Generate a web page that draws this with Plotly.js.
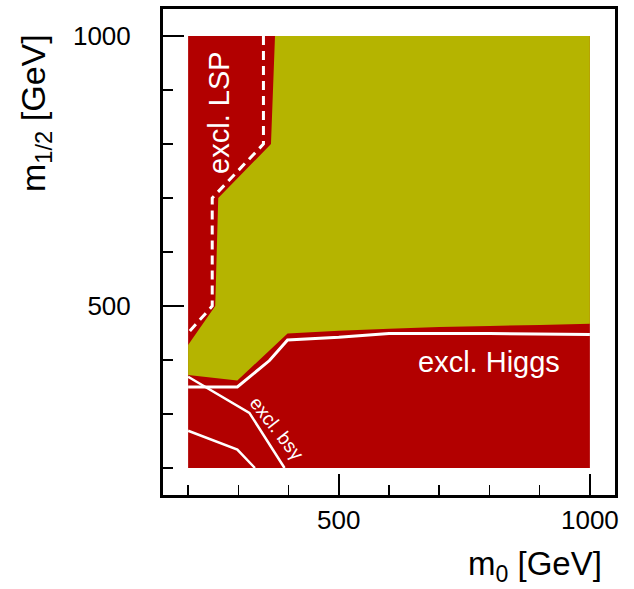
<!DOCTYPE html>
<html>
<head>
<meta charset="utf-8">
<script src="https://cdn.plot.ly/plotly-3.0.1.min.js"></script>
<style>html,body{margin:0;padding:0;background:#fff;}#chart{width:634px;height:589px;}</style>
</head>
<body>
<div id="chart"></div>
<script>
// Scanned region (m0, m1/2) in GeV
const scanX = [200, 1000, 1000, 200];
const scanY = [200, 200, 1000, 1000];

// Allowed (not excluded) region boundary
const allowedX = [373, 1000, 1000, 900, 800, 700, 600, 500, 398, 298, 200, 200, 254, 260, 365];
const allowedY = [1000, 1000, 467, 465, 463, 461, 458, 454, 449, 362, 372, 428, 500, 700, 800];

// LSP exclusion contour (dashed)
const lspX = [350, 350, 248, 248, 200];
const lspY = [1000, 800, 700, 500, 450];

// Higgs exclusion contour
const higgsX = [200, 298, 362, 398, 500, 600, 800, 1000];
const higgsY = [350, 350, 399, 437, 442, 449, 449, 447];

// b->s gamma exclusion contours
const bsgAX = [200, 322, 392];
const bsgAY = [369, 302, 200];
const bsgBX = [200, 298, 333];
const bsgBY = [269, 234, 200];

// Axis ticks
const majorTicks = [500, 1000];
const tickLabels = ['500', '1000'];

const RED = 'rgb(178,0,0)';
const OLIVE = 'rgb(181,180,0)';
const FONT = 'Liberation Sans, Arial, Helvetica, sans-serif';

const traces = [
  {x: scanX, y: scanY, type: 'scatter', mode: 'none', fill: 'toself', fillcolor: RED, hoverinfo: 'skip', showlegend: false},
  {x: allowedX, y: allowedY, type: 'scatter', mode: 'none', fill: 'toself', fillcolor: OLIVE, hoverinfo: 'skip', showlegend: false},
  {x: lspX, y: lspY, type: 'scatter', mode: 'lines', line: {color: 'white', width: 3, dash: '9px,6px'}, hoverinfo: 'skip', showlegend: false},
  {x: higgsX, y: higgsY, type: 'scatter', mode: 'lines', line: {color: 'white', width: 3}, hoverinfo: 'skip', showlegend: false},
  {x: bsgAX, y: bsgAY, type: 'scatter', mode: 'lines', line: {color: 'white', width: 2.5}, hoverinfo: 'skip', showlegend: false},
  {x: bsgBX, y: bsgBY, type: 'scatter', mode: 'lines', line: {color: 'white', width: 2.5}, hoverinfo: 'skip', showlegend: false}
];

const axisCommon = {
  range: [150, 1050],
  tickmode: 'array',
  tickvals: majorTicks,
  ticktext: tickLabels,
  ticks: 'inside',
  ticklen: 21,
  tickwidth: 1.5,
  tickcolor: 'black',
  showline: true,
  linewidth: 3,
  linecolor: 'black',
  mirror: true,
  showgrid: false,
  zeroline: false,
  tickfont: {family: FONT, size: 26, color: 'black'},
  minor: {ticks: 'inside', ticklen: 10, tickwidth: 1.5, tickcolor: 'black', tick0: 0, dtick: 100, showgrid: false}
};

const layout = {
  width: 634,
  height: 589,
  margin: {l: 163, r: 19, t: 9, b: 94},
  paper_bgcolor: 'white',
  plot_bgcolor: 'white',
  font: {family: FONT, color: 'black'},
  xaxis: Object.assign({}, axisCommon, {ticklabelstandoff: 0}),
  yaxis: Object.assign({}, axisCommon, {ticklabelstandoff: 24}),
  annotations: [
    {xref: 'paper', yref: 'paper', x: -0.283, y: 0.786, text: 'm<sub>1/2</sub> [GeV]', textangle: -90, showarrow: false,
     font: {family: FONT, size: 34, color: 'black'}, xanchor: 'center', yanchor: 'middle'},
    {xref: 'paper', yref: 'paper', x: 0.976, y: -0.147, text: 'm<sub>0</sub> [GeV]', showarrow: false,
     font: {family: FONT, size: 33, color: 'black'}, xanchor: 'right', yanchor: 'middle'},
    {x: 260, y: 858, text: 'excl. LSP', textangle: -90, showarrow: false, font: {family: FONT, size: 29, color: 'white'}},
    {x: 799, y: 396, text: 'excl. Higgs', showarrow: false, font: {family: FONT, size: 29, color: 'white'}},
    {x: 377, y: 274, text: 'excl. bsγ', textangle: 52, showarrow: false, font: {family: FONT, size: 19, color: 'white'}}
  ]
};

Plotly.newPlot('chart', traces, layout, {staticPlot: true, displayModeBar: false});
</script>
</body>
</html>
